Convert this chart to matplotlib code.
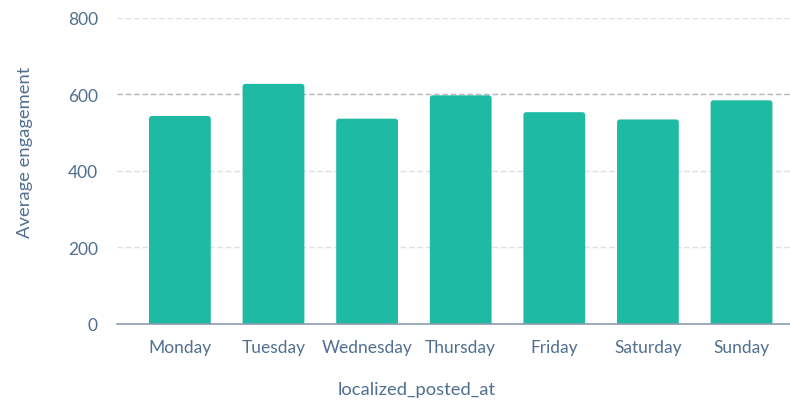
import matplotlib
matplotlib.use("Agg")
import matplotlib.pyplot as plt
from matplotlib.patches import FancyBboxPatch

days = ["Monday", "Tuesday", "Wednesday", "Thursday", "Friday", "Saturday", "Sunday"]
avg_engagement = [543, 627, 536, 597, 553, 534, 584]
y_ticks = [0, 200, 400, 600, 800]

BAR_COLOR = "#1EBAA3"
TEXT_COLOR = "#516F90"

plt.rcParams["font.family"] = ["Lato", "DejaVu Sans"]

W, H = 790, 402
fig = plt.figure(figsize=(W / 100, H / 100), dpi=100)
left, right = 117 / W, 790 / W
bottom, top = 1 - 324.7 / H, 1 - 18.7 / H
ax = fig.add_axes([left, bottom, right - left, top - bottom])

bar_w = 0.66
ax.set_xlim(-0.672, 6.518)
ax.set_ylim(0, 800)

for i, v in enumerate(avg_engagement):
    # slightly rounded top corners via a fancy box, with the bottom hidden below 0
    p = FancyBboxPatch((i - bar_w / 2, -20), bar_w, v + 20,
                       boxstyle="round,pad=0,rounding_size=0.03",
                       mutation_aspect=(800 / 306) * 93.6,
                       facecolor=BAR_COLOR, edgecolor="none", zorder=3, clip_on=True)
    ax.add_patch(p)

for t in y_ticks[1:]:
    col = "#B4B6BD" if t == 600 else "#DDE0E6"
    ax.axhline(t, color=col, lw=1.0, ls=(0, (4, 2)), zorder=1)

for s in ["top", "right", "left"]:
    ax.spines[s].set_visible(False)
ax.spines["bottom"].set_color("#8A9BB0")
ax.spines["bottom"].set_linewidth(1.2)
ax.spines["bottom"].set_zorder(4)

ax.set_xticks(range(len(days)))
ax.set_xticklabels(days)
ax.set_yticks(y_ticks)
ax.set_yticklabels([str(t) for t in y_ticks])
ax.tick_params(axis="x", length=0, pad=11, labelsize=12.5, labelcolor=TEXT_COLOR)
ax.tick_params(axis="y", length=0, pad=13.7, labelsize=12.5, labelcolor=TEXT_COLOR)

fig.text(25 / W, 1 - 152.5 / H, "Average engagement", rotation=90,
         ha="center", va="center", fontsize=13.2, color=TEXT_COLOR)
fig.text(416.5 / W, 1 - 390 / H, "localized_posted_at",
         ha="center", va="center", fontsize=13.2, color=TEXT_COLOR)

fig.savefig("out.png", dpi=100)
